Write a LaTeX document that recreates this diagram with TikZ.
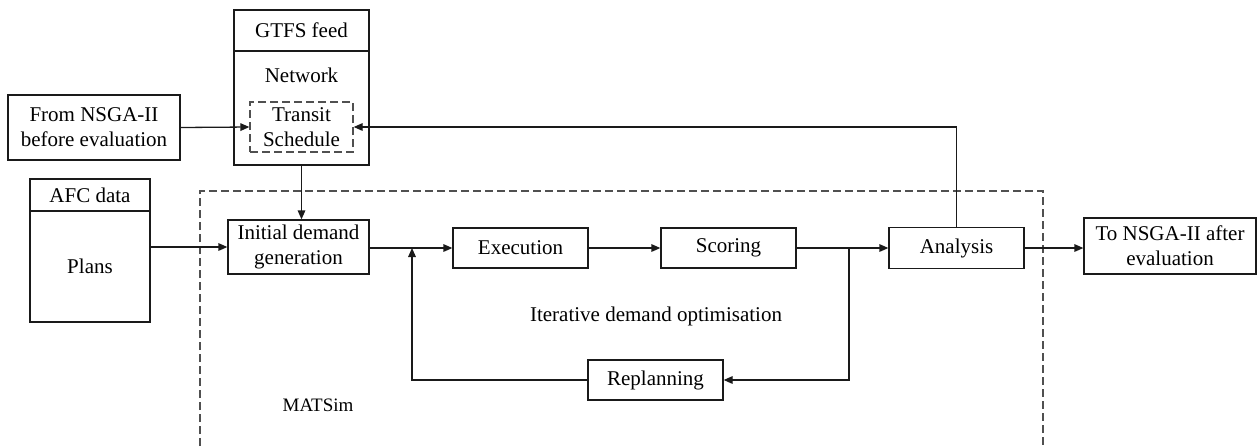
\documentclass[tikz,border=0pt]{standalone}
\usepackage{fontspec}
\setmainfont{Liberation Serif}
\usepackage{tikz}
\usetikzlibrary{arrows.meta,positioning}
\definecolor{FlowDark}{HTML}{1A1A1A}
\definecolor{FlowDash}{HTML}{505050}
\tikzset{
  flowbox/.style={draw=FlowDark,line width=0.65pt,align=center,inner sep=1pt,font=\fontsize{10.5}{12.5}\selectfont},
  dashbox/.style={flowbox,draw=FlowDash,dash pattern=on 4pt off 2pt},
  flowarrow/.style={-{Triangle[length=4.5pt,width=3.8pt]},line width=0.65pt,draw=FlowDark},
  regionline/.style={line width=0.7pt,draw=FlowDash,dash pattern=on 4pt off 2pt},
  flowtext/.style={font=\fontsize{10.5}{12.5}\selectfont,inner sep=0pt}
}

\begin{document}
\begin{tikzpicture}[x=0.5pt,y=-0.5pt]
  \useasboundingbox (0,0) rectangle (1257,446);
  % data sources
  \node[flowbox,minimum width=67.5pt,minimum height=20.5pt] (gtfshead) at (301.5,30.5) {GTFS feed};
  \node[flowbox,minimum width=67.5pt,minimum height=57pt] (gtfsbody) at (301.5,108) {};
  \node[flowtext] (net) at (301.5,75) {Network};
  \node[dashbox,minimum width=51.5pt,minimum height=25pt] (sched) at (301.5,127) {Transit\\Schedule};
  \node[flowbox,minimum width=86pt,minimum height=32.5pt] (fromnsga) at (94,127.5) {From NSGA-II\\before evaluation};
  \node[flowbox,minimum width=60pt,minimum height=16pt] (afchead) at (90,195) {AFC data};
  \node[flowbox,minimum width=60pt,minimum height=55.5pt] (afcbody) at (90,266.5) {Plans};

  % MATSim region
  \draw[regionline] (200,446) -- (200,191) -- (1043,191) -- (1043,446);
  \node[font=\fontsize{9.5}{11}\selectfont] (matsim) at (318,405) {MATSim};
  \node[flowtext] (iterlbl) at (656,316) {Iterative demand optimisation};

  \node[flowbox,minimum width=70.5pt,minimum height=27pt] (init) at (298.5,247) {Initial demand\\generation};
  \node[flowbox,minimum width=67.5pt,minimum height=20pt] (exec) at (520.5,248) {Execution};
  \node[flowbox,minimum width=67.5pt,minimum height=20pt] (score) at (728.5,248) {Scoring};
  \node[flowbox,minimum width=67.5pt,minimum height=20.5pt] (analysis) at (956.5,248) {Analysis};
  \node[flowbox,minimum width=67.5pt,minimum height=20pt] (replan) at (655.5,380) {Replanning};
  \node[flowbox,minimum width=86pt,minimum height=28pt] (tonsga) at (1170,246) {To NSGA-II after\\evaluation};
  \coordinate (jl) at (412,248);
  \coordinate (jr) at (849,248);

  % connectors
  \draw[flowarrow] (fromnsga.east) -- (sched.west);
  \draw[flowarrow] (gtfsbody.south) -- (gtfsbody.south |- init.north);
  \draw[flowarrow] (afcbody.east |- init.west) -- (init.west);
  \draw[flowarrow] (init.east |- exec.west) -- (exec.west);
  \draw[flowarrow] (exec.east) -- (score.west);
  \draw[flowarrow] (score.east) -- (analysis.west);
  \draw[flowarrow] (analysis.east) -- (tonsga.west |- analysis.east);
  \draw[flowarrow] (jr) |- (replan.east);
  \draw[flowarrow] (replan.west) -| (jl);
  \draw[flowarrow] (analysis.north) |- (sched.east);
\end{tikzpicture}
\end{document}
